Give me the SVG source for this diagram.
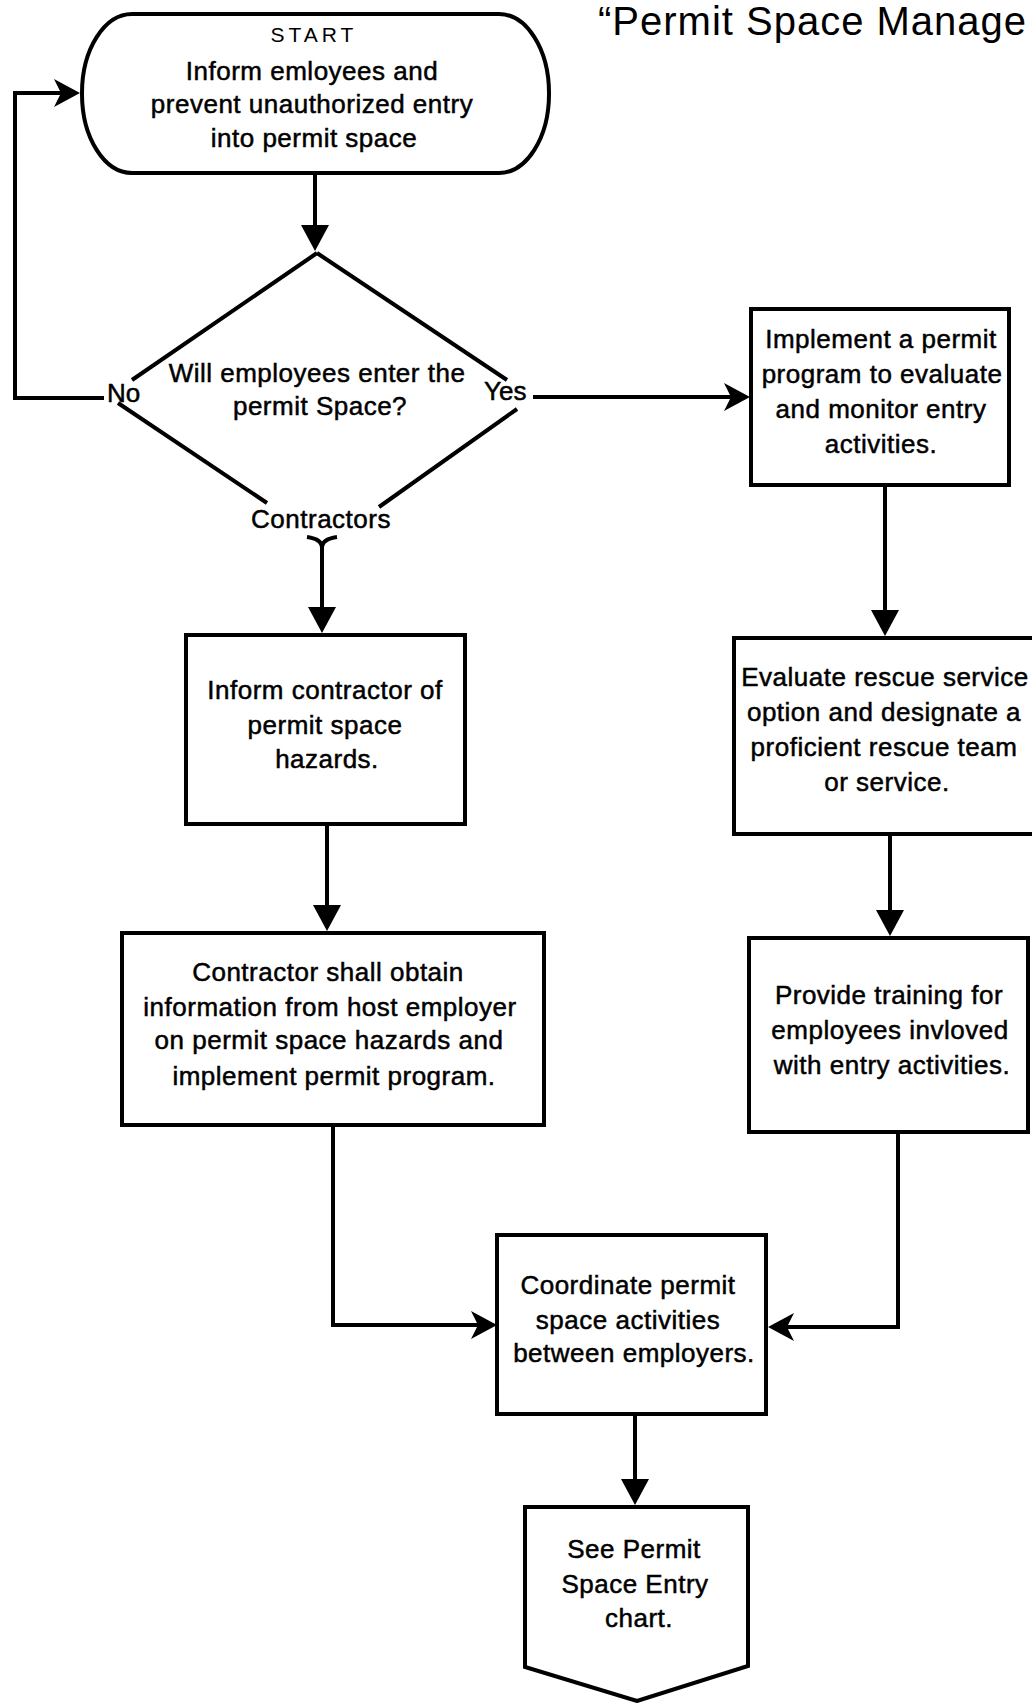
<svg xmlns="http://www.w3.org/2000/svg" width="1032" height="1703" viewBox="0 0 1032 1703">
<style>
.shape{fill:#fff;stroke:#000;stroke-width:4;stroke-linejoin:miter}
.edge{fill:none;stroke:#000;stroke-width:4}
.t{font-family:"Liberation Sans",Arial,sans-serif;font-size:26px;letter-spacing:0.5px;text-anchor:middle;fill:#000;stroke:#000;stroke-width:0.5px}
.lbl{font-family:"Liberation Sans",Arial,sans-serif;font-size:26px;fill:#000;stroke:#000;stroke-width:0.5px}
</style>
<defs>
<marker id="tri" viewBox="0 0 26 28" refX="14" refY="14" markerWidth="26" markerHeight="28" markerUnits="userSpaceOnUse" orient="auto">
<path d="M0,0 L26,14 L0,28 Z" fill="#000"/>
</marker>
<marker id="barb" viewBox="0 0 26 28" refX="14" refY="14" markerWidth="26" markerHeight="28" markerUnits="userSpaceOnUse" orient="auto">
<path d="M0,0 L26,14 L0,28 L7,14 Z" fill="#000"/>
</marker>
</defs>
<rect width="1032" height="1703" fill="#fff"/>

<text id="title" x="598" y="35" font-family="'Liberation Sans',Arial,sans-serif" font-size="40" letter-spacing="1" fill="#000">“Permit Space Manage</text>

<g id="connectors">
<path class="edge" d="M315,173 V239" marker-end="url(#tri)"/>
<path class="edge" d="M533,397 H738" marker-end="url(#barb)"/>
<path class="edge" d="M104,398 H15 V93 H68" marker-end="url(#barb)"/>
<path class="edge" d="M307,537 Q322,539 322,548 M337,537 Q322,539 322,548"/>
<path class="edge" d="M322,546 V621" marker-end="url(#tri)"/>
<path class="edge" d="M327,824 V919" marker-end="url(#tri)"/>
<path class="edge" d="M885,485 V624" marker-end="url(#tri)"/>
<path class="edge" d="M890,834 V924" marker-end="url(#tri)"/>
<path class="edge" d="M333,1125 V1325 H485" marker-end="url(#barb)"/>
<path class="edge" d="M898,1132 V1327 H780" marker-end="url(#barb)"/>
<path class="edge" d="M635,1414 V1493" marker-end="url(#tri)"/>
<text class="lbl" x="107" y="402">No</text>
<text class="lbl" x="484" y="400">Yes</text>
<text class="t" x="321" y="528">Contractors</text>
</g>

<g id="start">
<rect class="shape" x="82" y="14" width="467" height="159" rx="50" ry="79"/>
<text x="314" y="42" font-family="'Liberation Sans',Arial,sans-serif" font-size="21" letter-spacing="4" text-anchor="middle" fill="#000">START</text>
<text class="t" x="312" y="80">Inform emloyees and</text>
<text class="t" x="312" y="113">prevent unauthorized entry</text>
<text class="t" x="314" y="147">into permit space</text>
</g>

<g id="decision">
<path class="edge" d="M317,253 L132,380 M317,253 L507,380 M118,403 L267,503 M517,409 L379,507"/>
<text class="t" x="317" y="382">Will employees enter the</text>
<text class="t" x="320" y="415">permit Space?</text>
</g>

<g id="implement">
<rect class="shape" x="751" y="309" width="258" height="176"/>
<text class="t" x="881" y="348">Implement a permit</text>
<text class="t" x="882" y="383">program to evaluate</text>
<text class="t" x="881" y="418">and monitor entry</text>
<text class="t" x="881" y="453">activities.</text>
</g>

<g id="evaluate">
<rect class="shape" x="734" y="638" width="302" height="196"/>
<text class="t" x="885" y="686">Evaluate rescue service</text>
<text class="t" x="884" y="721">option and designate a</text>
<text class="t" x="884" y="756">proficient rescue team</text>
<text class="t" x="887" y="791">or service.</text>
</g>

<g id="training">
<rect class="shape" x="749" y="938" width="279" height="194"/>
<text class="t" x="889" y="1004">Provide training for</text>
<text class="t" x="890" y="1039">employees invloved</text>
<text class="t" x="892" y="1074">with entry activities.</text>
</g>

<g id="inform-contractor">
<rect class="shape" x="186" y="635" width="279" height="189"/>
<text class="t" x="325" y="699">Inform contractor of</text>
<text class="t" x="325" y="734">permit space</text>
<text class="t" x="327" y="768">hazards.</text>
</g>

<g id="contractor-obtain">
<rect class="shape" x="122" y="933" width="422" height="192"/>
<text class="t" x="328" y="981">Contractor shall obtain</text>
<text class="t" x="330" y="1016">information from host employer</text>
<text class="t" x="329" y="1049">on permit space hazards and</text>
<text class="t" x="334" y="1085">implement permit program.</text>
</g>

<g id="coordinate">
<rect class="shape" x="497" y="1235" width="269" height="179"/>
<text class="t" x="628" y="1294">Coordinate permit</text>
<text class="t" x="628" y="1329">space activities</text>
<text class="t" x="634" y="1362">between employers.</text>
</g>

<g id="offpage">
<path class="shape" d="M525,1507 H748 V1666 L637,1701 L525,1667 Z"/>
<text class="t" x="634" y="1558">See Permit</text>
<text class="t" x="635" y="1593">Space Entry</text>
<text class="t" x="639" y="1627">chart.</text>
</g>
</svg>
